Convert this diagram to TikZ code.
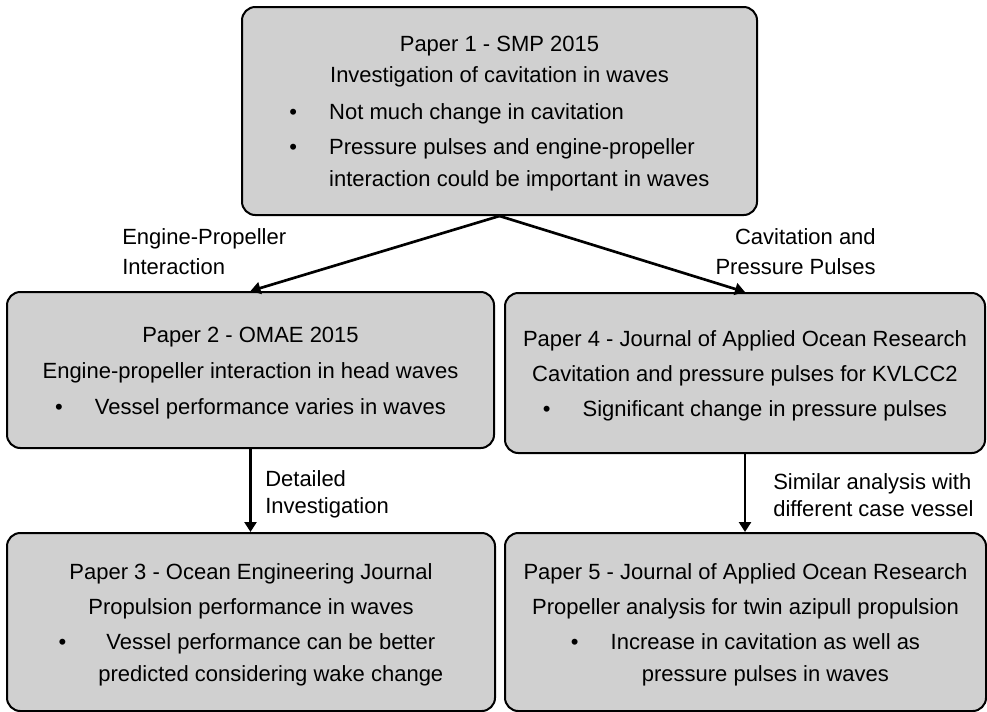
\documentclass[tikz,border=0pt]{standalone}
\usepackage{fontspec}
\setmainfont{Liberation Sans}
\usepackage{tikz}
\usepackage{xcolor}
\usetikzlibrary{positioning,arrows.meta}
\definecolor{boxgray}{RGB}{208,208,208}
\newcommand{\ptop}{\rule{0pt}{19.5pt}}
\newcommand{\pitem}[2][l]{\textbullet\hspace{24pt}\begin{tabular}[t]{@{}#1@{}}#2\end{tabular}}

\begin{document}
\begin{tikzpicture}[x=0.75pt,y=-0.75pt,
paper/.style={draw,line width=1.5pt,fill=boxgray,rounded corners=10pt,inner sep=0pt,
  align=center,font=\fontsize{16.5pt}{24pt}\selectfont},
lbl/.style={inner sep=0pt,font=\fontsize{16.5pt}{20.25pt}\selectfont},
arr/.style={line width=2pt,-{Triangle[length=7.5pt,width=9pt]}}]
\useasboundingbox (0,0) rectangle (987,711);
\node (smp) [paper,minimum width=386.25pt,minimum height=156pt] at (499.5,111)
  {\ptop Paper 1 - SMP 2015\\[-0.75pt]
   Investigation of cavitation in waves\\[3.75pt]
   \begin{tabular}[t]{@{}l@{\hspace{24pt}}l@{}}
   \textbullet & Not much change in cavitation\\[2.25pt]
   \textbullet & Pressure pulses and engine-propeller\\
               & interaction could be important in waves
   \end{tabular}};
\node (omae) [paper,minimum width=365.25pt,minimum height=117pt] at (250.5,370)
  {\ptop Paper 2 - OMAE 2015\\[3pt]
   Engine-propeller interaction in head waves\\[3pt]
   \pitem{Vessel performance varies in waves}};
\node (jaorA) [paper,minimum width=360pt,minimum height=120pt] at (745,373)
  {\ptop Paper 4 - Journal of Applied Ocean Research\\[2.25pt]
   Cavitation and pressure pulses for KVLCC2\\[2.25pt]
   \pitem{Significant change in pressure pulses}};
\node (oej) [paper,minimum width=366pt,minimum height=133.5pt] at (251,622)
  {\ptop Paper 3 - Ocean Engineering Journal\\[2.25pt]
   Propulsion performance in waves\\[2.25pt]
   \pitem[c]{Vessel performance can be better\\predicted considering wake change}};
\node (jaorB) [paper,minimum width=360.75pt,minimum height=133.5pt] at (745.5,622)
  {\ptop Paper 5 - Journal of Applied Ocean Research\\[2.25pt]
   Propeller analysis for twin azipull propulsion\\[2.25pt]
   \pitem[c]{Increase in cavitation as well as\\pressure pulses in waves}};
\draw[arr] (smp.south) -- (omae.north);
\draw[arr] (smp.south) -- (jaorA.north);
\draw[arr] (omae.south) -- (omae.south |- oej.north);
\draw[arr] (jaorA.south) -- (jaorA.south |- jaorB.north);
\node (lblEP) [lbl,align=left,anchor=north west] at (122,228) {Engine-Propeller\\[2.25pt]Interaction};
\node (lblCP) [lbl,align=right,anchor=north east] at (876,228) {Cavitation and\\[2.25pt]Pressure Pulses};
\node (lblDI) [lbl,align=left,anchor=north west] at (265,470) {Detailed\\Investigation};
\node (lblSA) [lbl,align=left,anchor=north west] at (773,473) {Similar analysis with\\different case vessel};
\end{tikzpicture}
\end{document}
